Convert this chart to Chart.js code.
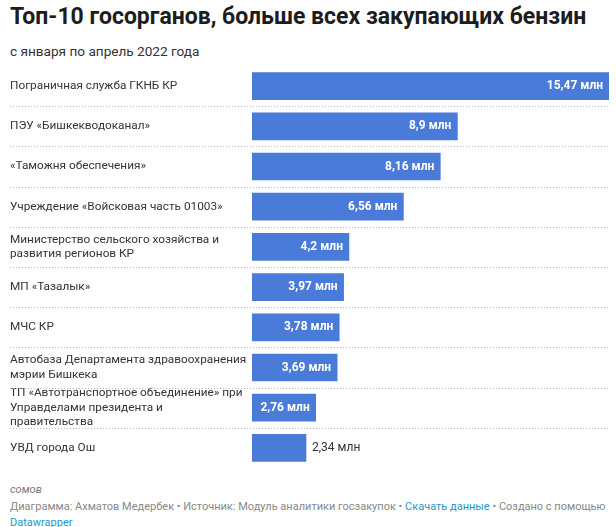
<!DOCTYPE html>
<html>
<head>
<meta charset="utf-8">
<script src="https://cdn.jsdelivr.net/npm/chart.js@4"></script>
<style>
  body { margin: 0; background: #fff; font-family: Roboto, sans-serif; width: 616px; height: 527px; position: relative; overflow: hidden; }
  #title { position: absolute; left: 10px; top: 3px; font-size: 23px; font-weight: bold; color: #1d1d1d; white-space: nowrap; }
  #sub { position: absolute; left: 10px; top: 43px; font-size: 13.6px; color: #333; white-space: nowrap; }
  #wrap { position: absolute; left: 0; top: 60px; width: 616px; height: 415px; }
  #unit { position: absolute; left: 10px; top: 483px; font-size: 11px; font-style: italic; color: #777; }
  #notes { position: absolute; left: 10px; top: 499px; font-size: 11px; line-height: 16px; color: #888; white-space: nowrap; }
  #notes a { color: #1f98c7; text-decoration: none; }
</style>
</head>
<body>
<div id="title">Топ-10 госорганов, больше всех закупающих бензин</div>
<div id="sub">с января по апрель 2022 года</div>
<div id="wrap"><canvas id="chart"></canvas></div>
<div id="unit">сомов</div>
<div id="notes">Диаграмма: Ахматов Медербек • Источник: Модуль аналитики госзакупок • <a href="#">Скачать данные</a> • Создано с помощью<br><a href="#">Datawrapper</a></div>
<script>
const agencies = [
  ['Пограничная служба ГКНБ КР'],
  ['ПЭУ «Бишкекводоканал»'],
  ['«Таможня обеспечения»'],
  ['Учреждение «Войсковая часть 01003»'],
  ['Министерство сельского хозяйства и', 'развития регионов КР'],
  ['МП «Тазалык»'],
  ['МЧС КР'],
  ['Автобаза Департамента здравоохранения', 'мэрии Бишкека'],
  ['ТП «Автотранспортное объединение» при', 'Управделами президента и', 'правительства'],
  ['УВД города Ош']
];
const spendMln = [15.47, 8.9, 8.16, 6.56, 4.2, 3.97, 3.78, 3.69, 2.76, 2.34];
const valueLabels = ['15,47 млн', '8,9 млн', '8,16 млн', '6,56 млн', '4,2 млн', '3,97 млн', '3,78 млн', '3,69 млн', '2,76 млн', '2,34 млн'];

// dotted separators between rows, from label column to the right edge
const rowLines = {
  id: 'rowLines',
  beforeDatasetsDraw(chart) {
    const c = chart.ctx, y = chart.scales.y, a = chart.chartArea;
    c.save();
    c.strokeStyle = '#b8b8b8';
    c.lineWidth = 1;
    c.setLineDash([1, 2]);
    for (let i = 0; i < agencies.length - 1; i++) {
      const py = Math.round((y.getPixelForValue(i) + y.getPixelForValue(i + 1)) / 2) + 0.5;
      c.beginPath();
      c.moveTo(10, py);
      c.lineTo(a.right, py);
      c.stroke();
    }
    c.restore();
  }
};

// value labels: inside the bar if it fits, otherwise after it
const barValues = {
  id: 'barValues',
  afterDatasetsDraw(chart) {
    const c = chart.ctx;
    const bars = chart.getDatasetMeta(0).data;
    c.save();
    c.textBaseline = 'middle';
    bars.forEach((b, i) => {
      const txt = valueLabels[i];
      c.font = 'bold 12px Roboto';
      const w = c.measureText(txt).width;
      const barW = b.x - b.base;
      if (w + 12 < barW) {
        c.fillStyle = '#fff';
        c.textAlign = 'right';
        c.fillText(txt, b.x - 6, b.y);
      } else {
        c.font = '12px Roboto';
        c.fillStyle = '#333';
        c.textAlign = 'left';
        c.fillText(txt, b.x + 6, b.y);
      }
    });
    c.restore();
  }
};

new Chart(document.getElementById('chart'), {
  type: 'bar',
  data: {
    labels: agencies,
    datasets: [{
      data: spendMln,
      backgroundColor: '#4a7bd9',
      barThickness: 27
    }]
  },
  options: {
    indexAxis: 'y',
    responsive: true,
    maintainAspectRatio: false,
    animation: false,
    layout: { padding: { left: 10, right: 7, top: 6, bottom: 7 } },
    plugins: { legend: { display: false }, tooltip: { enabled: false } },
    scales: {
      x: {
        display: false,
        min: 0,
        max: Math.max(...spendMln)
      },
      y: {
        grid: { display: false },
        border: { display: false },
        afterFit(scale) {
          scale.width = 242;
          scale.paddingTop = 0;
          scale.paddingBottom = 0;
        },
        ticks: {
          autoSkip: false,
          crossAlign: 'far',
          padding: 0,
          color: '#333',
          font: { family: 'Roboto', size: 11.8, lineHeight: 1.2 }
        }
      }
    }
  },
  plugins: [rowLines, barValues]
});
</script>
</body>
</html>
